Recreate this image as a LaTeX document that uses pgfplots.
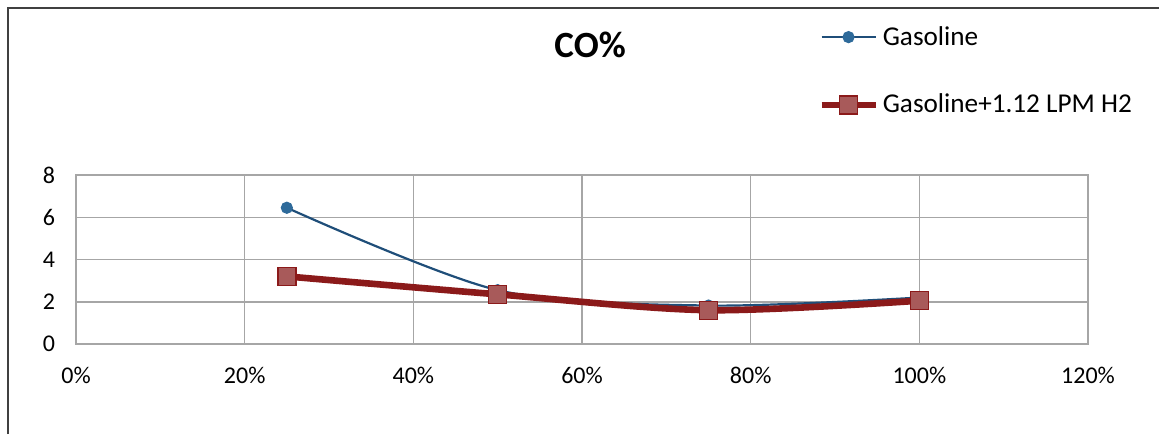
\documentclass[border=0pt]{standalone}
\usepackage{pgfplots}
\pgfplotsset{compat=1.18}
\usepackage{fontspec}
\setmainfont{Carlito}
\definecolor{gasline}{HTML}{1F4E79}
\definecolor{gasfill}{HTML}{2E6A9A}
\definecolor{hline}{HTML}{8B1A1A}
\definecolor{hfill}{HTML}{A85A5A}
\definecolor{gridgray}{HTML}{A6A6A6}
\definecolor{framegray}{HTML}{404040}
\begin{document}
\begin{tikzpicture}
\useasboundingbox (0pt,0pt) rectangle (579.5pt,217pt);
\draw[framegray,line width=0.6pt] (4pt,0pt) -- (4pt,213pt) -- (579.5pt,213pt);
\begin{axis}[
  at={(38pt,45pt)}, anchor=south west,
  scale only axis, width=506pt, height=84.5pt,
  xmin=0, xmax=120, ymin=0, ymax=8,
  xtick={0,20,...,120}, ytick={0,2,...,8},
  xticklabel={\pgfmathprintnumber{\tick}\%},
  /pgf/number format/assume math mode=true,
  tick style={draw=none},
  grid=major,
  grid style={gridgray,line width=0.75pt},
  axis line style={gridgray,line width=0.75pt},
  ticklabel style={font=\fontsize{12}{14}\selectfont, text=black},
  xticklabel style={yshift=-8pt},
  yticklabel style={xshift=-7pt},
  title={\textbf{CO\%}},
  title style={at={(rel axis cs:0.508,1.70)}, anchor=center, font=\fontsize{18.5}{20}\selectfont},
  legend style={at={(rel axis cs:0.733,1.615)}, anchor=west, draw=none, fill=none,
    font=\fontsize{13.6}{15}\selectfont, row sep=19pt, inner sep=0pt,
    /tikz/every odd column/.append style={column sep=0pt}},
  legend cell align=left,
  legend image code/.code={
    \draw[mark repeat=2,mark phase=2,#1] plot coordinates {(0pt,0pt)(13.5pt,0pt)(27pt,0pt)};},
]
\addplot[smooth, color=gasline, line width=1.1pt, mark=*, mark size=2.8pt,
  mark options={fill=gasfill, draw=gasfill, line width=0.5pt}]
  coordinates {(25,6.45) (50,2.55) (75,1.82) (100,2.2)};
\addlegendentry{Gasoline}
\addplot[smooth, color=hline, line width=3.3pt, mark=square*, mark size=4.5pt,
  mark options={fill=hfill, draw=hline, line width=0.7pt}]
  coordinates {(25,3.2) (50,2.35) (75,1.6) (100,2.05)};
\addlegendentry{Gasoline+1.12 LPM H2}
\end{axis}
\end{tikzpicture}
\end{document}
